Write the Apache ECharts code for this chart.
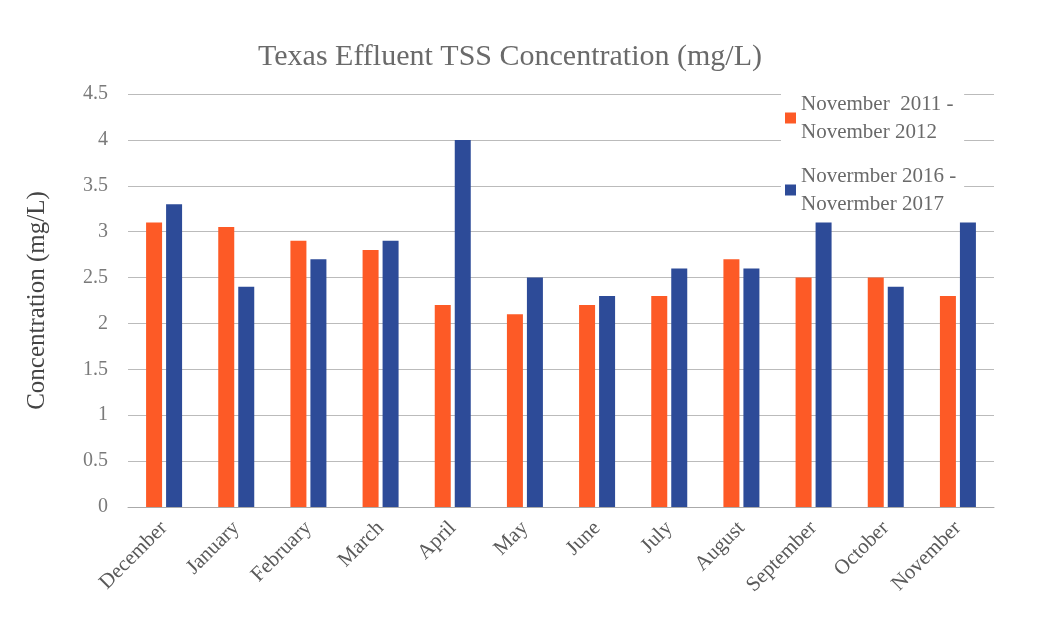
<!DOCTYPE html>
<html>
<head>
<meta charset="utf-8">
<script src="https://cdn.jsdelivr.net/npm/echarts@6/dist/echarts.min.js"></script>
<style>
  html, body { margin: 0; padding: 0; background: #fff; }
  #chart { width: 1049px; height: 624px; }
</style>
</head>
<body>
<div id="chart"></div>
<script>
const months = ['December', 'January', 'February', 'March', 'April', 'May',
  'June', 'July', 'August', 'September', 'October', 'November']
const tss2011 = [3.1, 3.05, 2.9, 2.8, 2.2, 2.1, 2.2, 2.3, 2.7, 2.5, 2.5, 2.3]
const tss2016 = [3.3, 2.4, 2.7, 2.9, 4.0, 2.5, 2.3, 2.6, 2.6, 3.1, 2.4, 3.1]
const seriesNames = ['November  2011 -\nNovember 2012', 'Novermber 2016 -\nNovermber 2017']

const FONT = '"Liberation Serif", "DejaVu Serif", serif'

const chart = echarts.init(document.getElementById('chart'))

chart.setOption({
  backgroundColor: '#fff',
  animation: false,
  title: {
    text: 'Texas Effluent TSS Concentration (mg/L)',
    left: 505,
    textAlign: 'center',
    top: 37,
    textStyle: { fontFamily: FONT, fontSize: 30, fontWeight: 'normal', color: '#6a6a6a' }
  },
  legend: {
    orient: 'vertical',
    left: 781,
    top: 86,
    itemWidth: 11,
    itemHeight: 11,
    itemGap: 16,
    icon: 'rect',
    backgroundColor: '#fff',
    padding: [4, 8, 4, 4],
    textStyle: { fontFamily: FONT, fontSize: 21, color: '#6a6a6a', lineHeight: 28 }
  },
  grid: { left: 128, right: 55, top: 94, bottom: 117 },
  xAxis: {
    type: 'category',
    data: months,
    axisLine: { lineStyle: { color: '#aaa' } },
    axisTick: { show: false },
    axisLabel: {
      rotate: 45,
      margin: 18,
      fontFamily: FONT,
      fontSize: 21,
      color: '#5a5a5a'
    }
  },
  yAxis: {
    type: 'value',
    min: 0,
    max: 4.5,
    interval: 0.5,
    name: 'Concentration (mg/L)',
    nameLocation: 'middle',
    nameGap: 78,
    nameTextStyle: { fontFamily: FONT, fontSize: 25, color: '#444' },
    axisLine: { show: false },
    axisTick: { show: false },
    axisLabel: { fontFamily: FONT, fontSize: 20, color: '#7a7a7a', margin: 20 },
    splitLine: { lineStyle: { color: '#bbb', width: 1 } }
  },
  series: [
    {
      name: seriesNames[0],
      type: 'bar',
      data: tss2011,
      barWidth: 16,
      barGap: '25%',
      itemStyle: { color: '#fd5a26' }
    },
    {
      name: seriesNames[1],
      type: 'bar',
      data: tss2016,
      barWidth: 16,
      itemStyle: { color: '#2d4b98' }
    }
  ]
})
</script>
</body>
</html>
